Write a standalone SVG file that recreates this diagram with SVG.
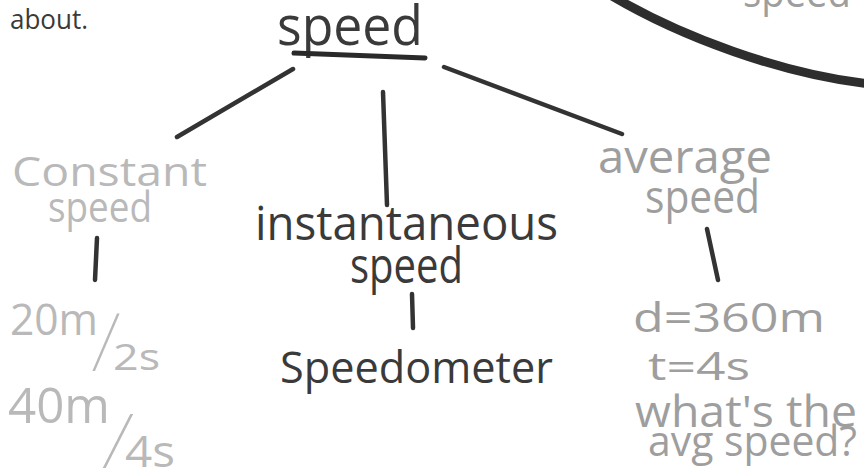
<svg xmlns="http://www.w3.org/2000/svg" width="864" height="474" viewBox="0 0 864 474">
<style>
text{font-family:"Open Sans","Liberation Sans",sans-serif;}
.dark{fill:#3a3a3a;}
.mid{fill:#9e9e9e;}
.light{fill:#b9b9b9;}
.slash{font-family:Inter,"Open Sans",sans-serif;font-weight:100;}
.con{stroke:#333;stroke-width:4.5;stroke-linecap:round;fill:none;}
</style>
<rect width="864" height="474" fill="#fff"/>
<g id="note">
<text class="dark" x="10" y="29" font-size="27" textLength="78" lengthAdjust="spacingAndGlyphs">about.</text>
</g>
<g id="circle-fragment">
<path d="M612,-4 C680,36 780,74 870,84" stroke="#2e2e2e" stroke-width="9" fill="none"/>
<text class="mid" x="743" y="7" font-size="42" textLength="108" lengthAdjust="spacingAndGlyphs">speed</text>
</g>
<g id="speed">
<text class="dark" x="277" y="45" font-size="54" textLength="146" lengthAdjust="spacingAndGlyphs">speed</text>
<path d="M294,53 L425,58" stroke="#2a2a2a" stroke-width="5" stroke-linecap="round"/>
</g>
<g id="constant-speed">
<text class="light" x="12" y="186" font-size="40" textLength="195" lengthAdjust="spacingAndGlyphs">Constant</text>
<text class="light" x="48" y="222" font-size="42" textLength="104" lengthAdjust="spacingAndGlyphs">speed</text>
</g>
<g id="instantaneous-speed">
<text class="dark" x="255" y="240" font-size="48" textLength="303" lengthAdjust="spacingAndGlyphs">instantaneous</text>
<text class="dark" x="350" y="283" font-size="50" textLength="113" lengthAdjust="spacingAndGlyphs">speed</text>
</g>
<g id="average-speed">
<text class="mid" x="598" y="173" font-size="46" textLength="174" lengthAdjust="spacingAndGlyphs">average</text>
<text class="mid" x="645" y="213" font-size="46" textLength="115" lengthAdjust="spacingAndGlyphs">speed</text>
</g>
<g id="examples-constant">
<text class="light" x="10" y="335" font-size="44" textLength="88" lengthAdjust="spacingAndGlyphs">20m</text>
<text class="light slash" x="89" y="364" font-size="66" textLength="34" lengthAdjust="spacingAndGlyphs">/</text>
<text class="light" x="113" y="370" font-size="36" textLength="47" lengthAdjust="spacingAndGlyphs">2s</text>
<text class="light" x="8" y="423" font-size="50" textLength="102" lengthAdjust="spacingAndGlyphs">40m</text>
<text class="light slash" x="99" y="461" font-size="62" textLength="38" lengthAdjust="spacingAndGlyphs">/</text>
<text class="light" x="125" y="467" font-size="44" textLength="50" lengthAdjust="spacingAndGlyphs">4s</text>
</g>
<g id="speedometer">
<text class="dark" x="280" y="383" font-size="44" textLength="273" lengthAdjust="spacingAndGlyphs">Speedometer</text>
</g>
<g id="average-problem">
<text class="mid" x="633" y="332" font-size="40" textLength="192" lengthAdjust="spacingAndGlyphs">d=360m</text>
<text class="mid" x="648" y="380" font-size="38" textLength="102" lengthAdjust="spacingAndGlyphs">t=4s</text>
<text class="mid" x="635" y="427" font-size="44" textLength="222" lengthAdjust="spacingAndGlyphs">what's the</text>
<text class="mid" x="648" y="456" font-size="42" textLength="209" lengthAdjust="spacingAndGlyphs">avg speed?</text>
</g>
<g id="connectors">
<path class="con" d="M177,137 L293,69"/>
<path class="con" d="M383,92 L387,205"/>
<path class="con" d="M444,67 L622,134"/>
<path class="con" d="M97,238 L95,280"/>
<path class="con" d="M412,294 L413,328"/>
<path class="con" d="M707,229 L718,280"/>
</g>
</svg>
